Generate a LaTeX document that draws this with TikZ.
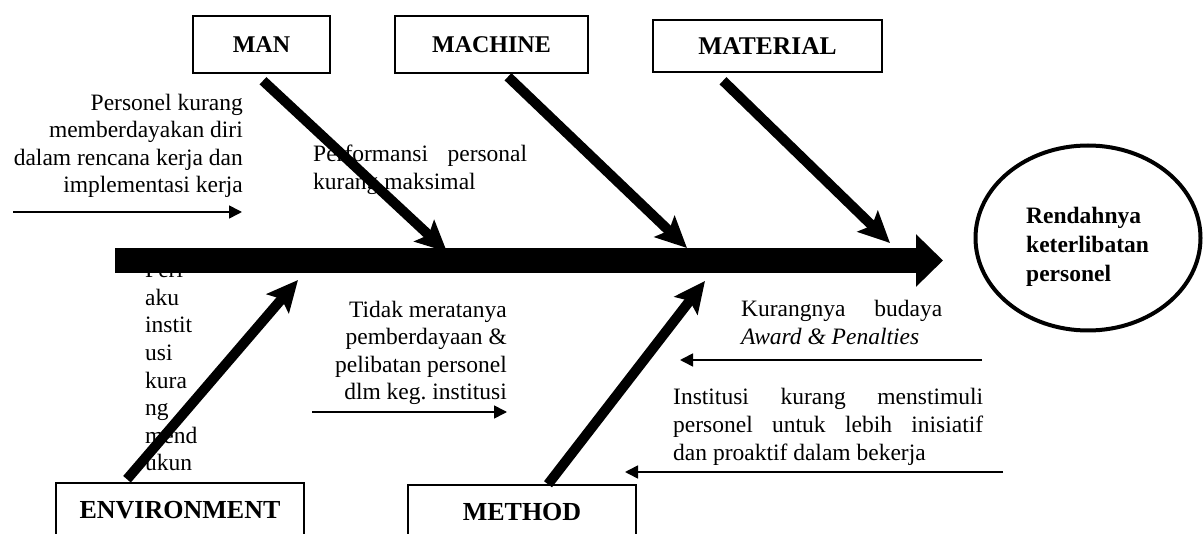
\documentclass[tikz,border=0pt]{standalone}
\usepackage{fontspec}
\setmainfont{Liberation Serif}
\usepackage{tikz}
\tikzset{>=latex}
\usetikzlibrary{
    positioning, % relative placement
    arrows.meta, % modern arrow tips
    shapes.geometric, % ellipse
    calc % coordinate shifts
}
\hyphenpenalty=10000
\tolerance=9999
\hbadness=10000

\begin{document}
\begin{tikzpicture}[x=1pt,y=-1pt]
    % styles
    \tikzstyle{cause} = [rectangle, draw=black, line width=1.5pt, inner sep=0pt,
                         font=\bfseries\fontsize{24}{28}\selectfont]
    \tikzstyle{note}  = [inner sep=0pt, font=\fontsize{23.5}{27.6}\selectfont]
    \tikzstyle{bone}  = [line width=10pt, -{Stealth[length=31pt,width=29pt,inset=6pt]}]
    \tikzstyle{line}  = [line width=1.6pt, -{Triangle[length=13pt,width=13pt]}]
    \useasboundingbox (0,0) rectangle (1203,534);
    \clip (0,0) rectangle (1203,534);
    % cause boxes
    \node[cause, minimum width=137pt, minimum height=57pt] (man)      at (261.5,44.5) {MAN};
    \node[cause, minimum width=193pt, minimum height=57pt] (machine)  at (491.5,44.5) {MACHINE};
    \node[cause, minimum width=229pt, minimum height=52pt,
          font=\bfseries\fontsize{25.5}{28}\selectfont]    (material) at (767.5,46)   {MATERIAL};
    \node[cause, minimum width=248pt, minimum height=54pt,
          font=\bfseries\fontsize{26}{28}\selectfont]      (env)      at (180,510)    {ENVIRONMENT};
    \node[cause, minimum width=228pt, minimum height=54pt,
          font=\bfseries\fontsize{26}{28}\selectfont]      (method)   at (522,512)    {METHOD};
    % effect
    \node[ellipse, draw=black, line width=4pt, minimum width=225pt, minimum height=185pt] (effect) at (1088,238) {};
    \node[note, align=left, anchor=base west, font=\bfseries\fontsize{23.5}{29}\selectfont] (effecttext) at (1026,282)
        {Rendahnya\\keterlibatan\\personel};
    % sub causes (last line on the given baseline)
    \node[note, align=right, anchor=base east] (sub1) at (243,193)
        {Personel kurang\\memberdayakan diri\\dalam rencana kerja dan\\implementasi kerja};
    \node[note, text width=214pt, align=justify, anchor=base west] (sub2) at (313,162)
        {Performansi personal\linebreak kurang maksimal};
    \node[note, align=left, anchor=base west] (sub3) at (145,471)
        {Peri\\aku\\instit\\usi\\kura\\ng\\mend\\ukun};
    \node[note, align=right, anchor=base east] (sub4) at (507,400)
        {Tidak meratanya\\pemberdayaan \&\\pelibatan personel\\dlm keg.\ institusi};
    \node[note, text width=201pt, align=justify, anchor=base west] (sub5) at (741,317)
        {Kurangnya budaya\linebreak \textit{Award \& Penalties}};
    \node[note, text width=310pt, align=justify, anchor=base west] (sub6) at (673,405)
        {Institusi kurang menstimuli\linebreak personel untuk lebih inisiatif\linebreak dan proaktif dalam bekerja};
    % spine
    \coordinate (tail) at (115,260.5);
    \coordinate (head) at (943,260.5);
    \draw[line width=25pt, -{Triangle[length=27pt,width=51pt]}] (tail) -- (head);
    % bones
    \coordinate (m1) at (447,252);
    \coordinate (m2) at (687,248);
    \coordinate (m3) at (890,243);
    \coordinate (m4) at (298,280);
    \coordinate (m5) at (705,281);
    \draw[bone] ([xshift=1.5pt,yshift=-7pt]man.south) -- (m1);
    \draw[bone] ([xshift=16.5pt,yshift=-3pt]machine.south) -- (m2);
    \draw[bone] ([xshift=-44.5pt,yshift=-8pt]material.south) -- (m3);
    \draw[bone] ([xshift=-53pt,yshift=3pt]env.north) -- (m4);
    \draw[bone] ([xshift=26pt]method.north) -- (m5);
    % thin arrows
    \coordinate (a1) at (13,212);   \coordinate (b1) at (242,212);
    \coordinate (a2) at (312,412);  \coordinate (b2) at (507,412);
    \coordinate (a3) at (982,360);  \coordinate (b3) at (680,360);
    \coordinate (a4) at (1003,472); \coordinate (b4) at (625,472);
    \draw[line] (a1) -- (b1);
    \draw[line] (a2) -- (b2);
    \draw[line] (a3) -- (b3);
    \draw[line] (a4) -- (b4);
\end{tikzpicture}
\end{document}
